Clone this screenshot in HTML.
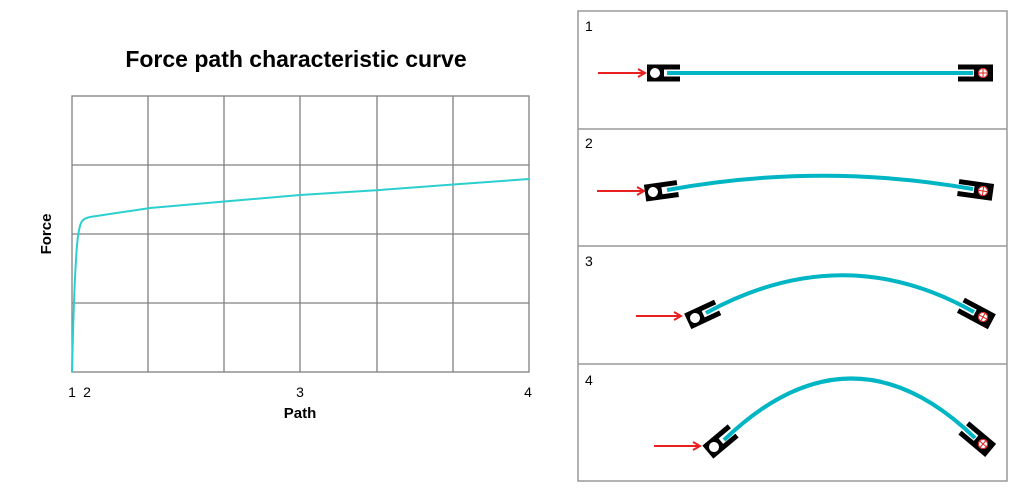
<!DOCTYPE html>
<html><head><meta charset="utf-8"><style>
html,body{margin:0;padding:0;background:#fff;}
svg{display:block;font-family:"Liberation Sans",sans-serif;}
</style></head><body>
<svg width="1024" height="495" viewBox="0 0 1024 495" xmlns="http://www.w3.org/2000/svg">
<defs>
<g id="bl">
<rect x="-8" y="-8.5" width="33" height="17" fill="#000"/>
<rect x="9" y="-3.5" width="17" height="7" fill="#fff"/>
<circle cx="0" cy="0" r="5" fill="#fff"/>
</g>
<g id="br">
<rect x="-25" y="-8.5" width="35" height="17" fill="#000"/>
<rect x="-26" y="-3.5" width="17" height="7" fill="#fff"/>
<circle cx="0" cy="0" r="5" fill="#fff"/>
<line x1="-5" y1="0" x2="5" y2="0" stroke="#e02020" stroke-width="1"/>
<line x1="0" y1="-5" x2="0" y2="5" stroke="#e02020" stroke-width="1"/>
<circle cx="0" cy="0" r="4.5" fill="none" stroke="#e02020" stroke-width="1"/>
</g>
<marker id="ah" markerWidth="10" markerHeight="10" refX="8" refY="5" orient="auto" markerUnits="userSpaceOnUse"><path d="M1,1 L8,5 L1,9" fill="none" stroke="#e82020" stroke-width="2"/></marker>
</defs>
<text x="296" y="67" text-anchor="middle" font-size="23" font-weight="bold">Force path characteristic curve</text>
<g stroke="#808080" stroke-width="1.3" fill="none">
<rect x="72" y="96" width="457" height="276"/>
<line x1="148" y1="96" x2="148" y2="372"/><line x1="224" y1="96" x2="224" y2="372"/>
<line x1="300" y1="96" x2="300" y2="372"/><line x1="377" y1="96" x2="377" y2="372"/>
<line x1="453" y1="96" x2="453" y2="372"/>
<line x1="72" y1="165" x2="529" y2="165"/><line x1="72" y1="234" x2="529" y2="234"/><line x1="72" y1="303" x2="529" y2="303"/>
</g>
<path d="M72,372 C73,330 74,290 76,260 C77,240 79,228 81,223 C83,219 86,218 90,217 L150,208 L230,201 L300,195 L380,190 L460,184 L529,179" fill="none" stroke="#2ccfcf" stroke-width="2"/>
<g font-size="14" text-anchor="middle">
<text x="72" y="397">1</text><text x="87" y="397">2</text><text x="300" y="397">3</text><text x="528" y="397">4</text>
</g>
<text x="300" y="418" text-anchor="middle" font-size="15" font-weight="bold">Path</text>
<text transform="translate(51,234) rotate(-90)" text-anchor="middle" font-size="15" font-weight="bold">Force</text>
<g stroke="#999" stroke-width="1.5" fill="none">
<rect x="578" y="11" width="429" height="470"/>
<line x1="578" y1="129" x2="1007" y2="129"/><line x1="578" y1="246" x2="1007" y2="246"/><line x1="578" y1="364" x2="1007" y2="364"/>
</g>
<g font-size="14"><text x="585" y="31">1</text><text x="585" y="148">2</text><text x="585" y="266">3</text><text x="585" y="385">4</text></g>
<g stroke="#e82020" stroke-width="2" marker-end="url(#ah)">
<line x1="598" y1="73" x2="645" y2="73"/><line x1="597" y1="191" x2="644" y2="191"/>
<line x1="636" y1="316" x2="681" y2="316"/><line x1="654" y1="446" x2="700" y2="446"/>
</g>
<use href="#bl" transform="translate(655,73)"/><use href="#br" transform="translate(983,73)"/>
<use href="#bl" transform="translate(653,192) rotate(-8)"/><use href="#br" transform="translate(983,191) rotate(8)"/>
<use href="#bl" transform="translate(695,318) rotate(-25)"/><use href="#br" transform="translate(983,317) rotate(28)"/>
<use href="#bl" transform="translate(714,447) rotate(-40)"/><use href="#br" transform="translate(983,444) rotate(40)"/>
<g fill="none" stroke="#00b5c4" stroke-width="4">
<path d="M667,73 L973,73"/>
<path d="M667,190 Q820,162 973,189"/>
<path d="M706,313 Q843,238 974,312"/>
<path d="M724,440 Q851,318 975,438"/>
</g>
</svg>
</body></html>
